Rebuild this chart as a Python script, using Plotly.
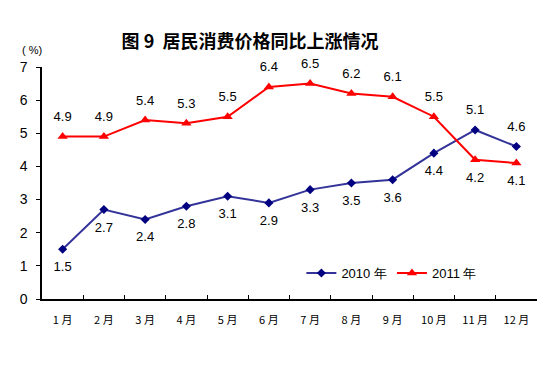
import plotly.graph_objects as go

months = ["1 月", "2 月", "3 月", "4 月", "5 月", "6 月", "7 月", "8 月", "9 月", "10 月", "11 月", "12 月"]
cpi_2010 = [1.5, 2.7, 2.4, 2.8, 3.1, 2.9, 3.3, 3.5, 3.6, 4.4, 5.1, 4.6]
cpi_2011 = [4.9, 4.9, 5.4, 5.3, 5.5, 6.4, 6.5, 6.2, 6.1, 5.5, 4.2, 4.1]
pos_2010 = ["bottom center"] * 10 + ["top center", "top center"]
pos_2011 = ["top center"] * 10 + ["bottom center", "bottom center"]

font_fam = "Liberation Sans, Arial, sans-serif"
fig = go.Figure()
fig.add_trace(go.Scatter(
    x=months, y=cpi_2010, name="2010 年", mode="lines+markers",
    line=dict(color="#333399", width=2),
    marker=dict(symbol="diamond", size=7, color="#000080"),
))
fig.add_trace(go.Scatter(
    x=months, y=cpi_2011, name="2011 年", mode="lines+markers",
    line=dict(color="#FF0000", width=2),
    marker=dict(symbol="triangle-up", size=9, color="#FF0000"),
))
# data labels (transparent markers give a wider label offset)
for vals, pos in ((cpi_2010, pos_2010), (cpi_2011, pos_2011)):
    fig.add_trace(go.Scatter(
        x=months, y=vals, mode="markers+text", showlegend=False, hoverinfo="skip",
        marker=dict(size=18, opacity=0), cliponaxis=False,
        text=[f"{v:.1f}" for v in vals], textposition=pos,
        textfont=dict(size=13, color="#000000", family=font_fam),
    ))

fig.update_layout(
    width=550, height=359,
    margin=dict(l=27, r=21, t=59, b=68),
    paper_bgcolor="white", plot_bgcolor="white",
    font=dict(family=font_fam, color="#000000"),
    title=dict(text="<b>图 9  居民消费价格同比上涨情况</b>",
               x=0.44, xanchor="center", y=0.905, yanchor="middle",
               font=dict(size=18, family="Noto Sans CJK SC", color="#000000")),
    showlegend=True,
    legend=dict(orientation="h", x=0.524, y=0.112, xanchor="left", yanchor="middle",
                bgcolor="rgba(0,0,0,0)", font=dict(size=13, family=font_fam),
                itemwidth=30, traceorder="normal"),
    annotations=[dict(text="( %)", x=-0.02, y=1.075, xref="paper", yref="paper",
                      xanchor="center", yanchor="middle",
                      showarrow=False, font=dict(size=11, family=font_fam))],
)
fig.update_xaxes(
    type="category", range=[-0.5, 11.5], autorange=False,
    showline=True, linecolor="#000000", linewidth=1.5,
    showgrid=False, ticks="inside", tickson="boundaries", ticklen=4,
    tickcolor="#000000", ticklabelstandoff=10,
    tickfont=dict(size=11, family="Noto Sans CJK SC"),
)
fig.update_yaxes(
    range=[0, 7], dtick=1, showline=True, linecolor="#000000", linewidth=1.5,
    showgrid=False, zeroline=False, ticks="outside", ticklen=4, tickcolor="#000000",
    tickfont=dict(size=14, family=font_fam), ticklabelstandoff=6,
)
fig.write_html("out.html")
